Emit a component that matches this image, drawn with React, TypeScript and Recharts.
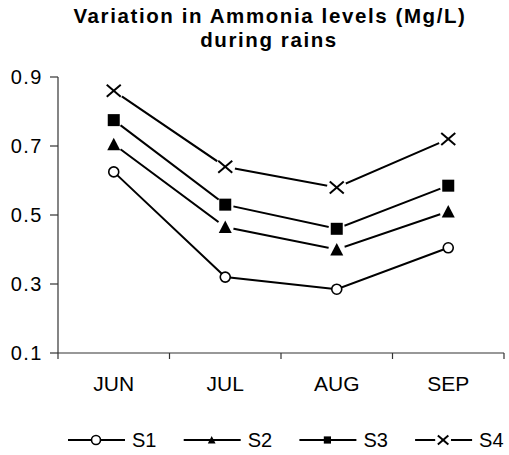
import React from 'react';
import { LineChart, Line, XAxis, YAxis, Legend } from 'recharts';

const months = ['JUN', 'JUL', 'AUG', 'SEP'];
const s1 = [0.625, 0.32, 0.285, 0.405];
const s2 = [0.705, 0.465, 0.4, 0.51];
const s3 = [0.775, 0.53, 0.46, 0.585];
const s4 = [0.86, 0.64, 0.58, 0.72];
const seriesNames = ['S1', 'S2', 'S3', 'S4'];
const yTicks = [0.1, 0.3, 0.5, 0.7, 0.9];
const boundaryTicks = [0, 1, 2, 3, 4];
const centerTicks = [0.5, 1.5, 2.5, 3.5];
const titleLines = ['Variation in Ammonia levels (Mg/L)', 'during rains'];

const data = months.map((m, i) => ({
  pos: i + 0.5,
  month: m,
  S1: s1[i],
  S2: s2[i],
  S3: s3[i],
  S4: s4[i],
}));

type Shape = 'circle' | 'triangle' | 'square' | 'cross';
const shapes: Shape[] = ['circle', 'triangle', 'square', 'cross'];
const FONT = '"Liberation Sans", Arial, sans-serif';
const AXIS = '#333';

function Marker({ cx, cy, shape, s = 1, halo = 0 }: { cx: number; cy: number; shape: Shape; s?: number; halo?: number }) {
  if (cx == null || cy == null || isNaN(cx) || isNaN(cy)) return null;
  let mark: React.ReactNode = null;
  if (shape === 'circle') {
    mark = <circle cx={cx} cy={cy} r={5 * s} fill="#fff" stroke="#000" strokeWidth={1.6} />;
  } else if (shape === 'triangle') {
    const pts = `${cx},${cy - 6.5 * s} ${cx + 6.5 * s},${cy + 6 * s} ${cx - 6.5 * s},${cy + 6 * s}`;
    mark = <polygon points={pts} fill="#000" />;
  } else if (shape === 'square') {
    mark = <rect x={cx - 6 * s} y={cy - 6 * s} width={12 * s} height={12 * s} fill="#000" />;
  } else {
    mark = (
      <g stroke="#000" strokeWidth={2}>
        <line x1={cx - 7 * s} y1={cy - 6 * s} x2={cx + 7 * s} y2={cy + 6 * s} />
        <line x1={cx - 7 * s} y1={cy + 6 * s} x2={cx + 7 * s} y2={cy - 6 * s} />
      </g>
    );
  }
  return (
    <g>
      {halo > 0 && <circle cx={cx} cy={cy} r={halo} fill="#fff" />}
      {mark}
    </g>
  );
}

const haloFor = (shape: Shape) => (shape === 'circle' ? 0 : shape === 'cross' ? 10 : 8.5);

const legendStart = 68;
const legendStep = 115.7;

function LegendContent() {
  return (
    <svg width={509} height={30} style={{ display: 'block' }}>
      {seriesNames.map((name, i) => {
        const x0 = legendStart + i * legendStep;
        const shape = shapes[i];
        const cx = x0 + 28;
        const sc = shape === 'circle' ? 0.9 : shape === 'cross' ? 0.75 : 0.6;
        const halo = shape === 'cross' ? 8 : 0;
        return (
          <g key={name}>
            <line x1={x0} y1={14} x2={x0 + 57} y2={14} stroke="#000" strokeWidth={2} />
            <Marker cx={cx} cy={14} shape={shape} s={sc} halo={halo} />
            <text x={x0 + 64} y={21} fontFamily={FONT} fontSize={20} fill="#000">
              {name}
            </text>
          </g>
        );
      })}
    </svg>
  );
}

export default function App() {
  return (
    <div style={{ position: 'absolute', left: 0, top: 0, width: 509, height: 455, background: '#fff' }}>
      <LineChart width={509} height={455} data={data} margin={{ top: 77, right: 5, bottom: 0, left: 0 }}>
        <XAxis
          xAxisId="b"
          type="number"
          dataKey="pos"
          domain={[0, 4]}
          ticks={boundaryTicks}
          interval={0}
          tickFormatter={() => ''}
          tickSize={6}
          height={6}
          axisLine={{ stroke: AXIS, strokeWidth: 1.2 }}
          tickLine={{ stroke: AXIS, strokeWidth: 1.2 }}
          allowDataOverflow
        />
        <XAxis
          xAxisId="l"
          type="number"
          dataKey="pos"
          domain={[0, 4]}
          ticks={centerTicks}
          interval={0}
          tickFormatter={(v: number) => months[Math.floor(v)]}
          axisLine={false}
          tickLine={false}
          tickSize={0}
          tickMargin={17}
          height={66}
          allowDataOverflow
          tick={{ fill: '#000', fontSize: 21, fontFamily: FONT, letterSpacing: 0 }}
        />
        <YAxis
          type="number"
          domain={[0.1, 0.9]}
          ticks={yTicks}
          interval={0}
          tickFormatter={(v: number) => v.toFixed(1)}
          width={58}
          tickSize={8}
          tickMargin={7}
          axisLine={{ stroke: AXIS, strokeWidth: 1.2 }}
          tickLine={{ stroke: AXIS, strokeWidth: 1.2 }}
          tick={{ fill: '#000', fontSize: 20, fontFamily: FONT, letterSpacing: 1.5 }}
          allowDataOverflow
        />
        <Legend
          verticalAlign="bottom"
          content={() => <LegendContent />}
          wrapperStyle={{ position: 'absolute', left: 0, top: 426, width: 509, height: 30 }}
        />
        {seriesNames.map((name, i) => (
          <Line
            key={name}
            xAxisId="b"
            type="linear"
            dataKey={name}
            stroke="#000"
            strokeWidth={2}
            isAnimationActive={false}
            activeDot={false}
            dot={(p: any) => (
              <Marker key={`${name}-${p.index}`} cx={p.cx} cy={p.cy} shape={shapes[i]} halo={haloFor(shapes[i])} />
            )}
          />
        ))}
      </LineChart>
      <svg width={509} height={60} style={{ position: 'absolute', left: 0, top: 0, pointerEvents: 'none' }}>
        <text x={270} y={23} textAnchor="middle" fontFamily={FONT} fontWeight="bold" fontSize={20.5} letterSpacing={1.6} fill="#000">
          {titleLines[0]}
        </text>
        <text x={269} y={47} textAnchor="middle" fontFamily={FONT} fontWeight="bold" fontSize={20.5} letterSpacing={1.6} fill="#000">
          {titleLines[1]}
        </text>
      </svg>
    </div>
  );
}
